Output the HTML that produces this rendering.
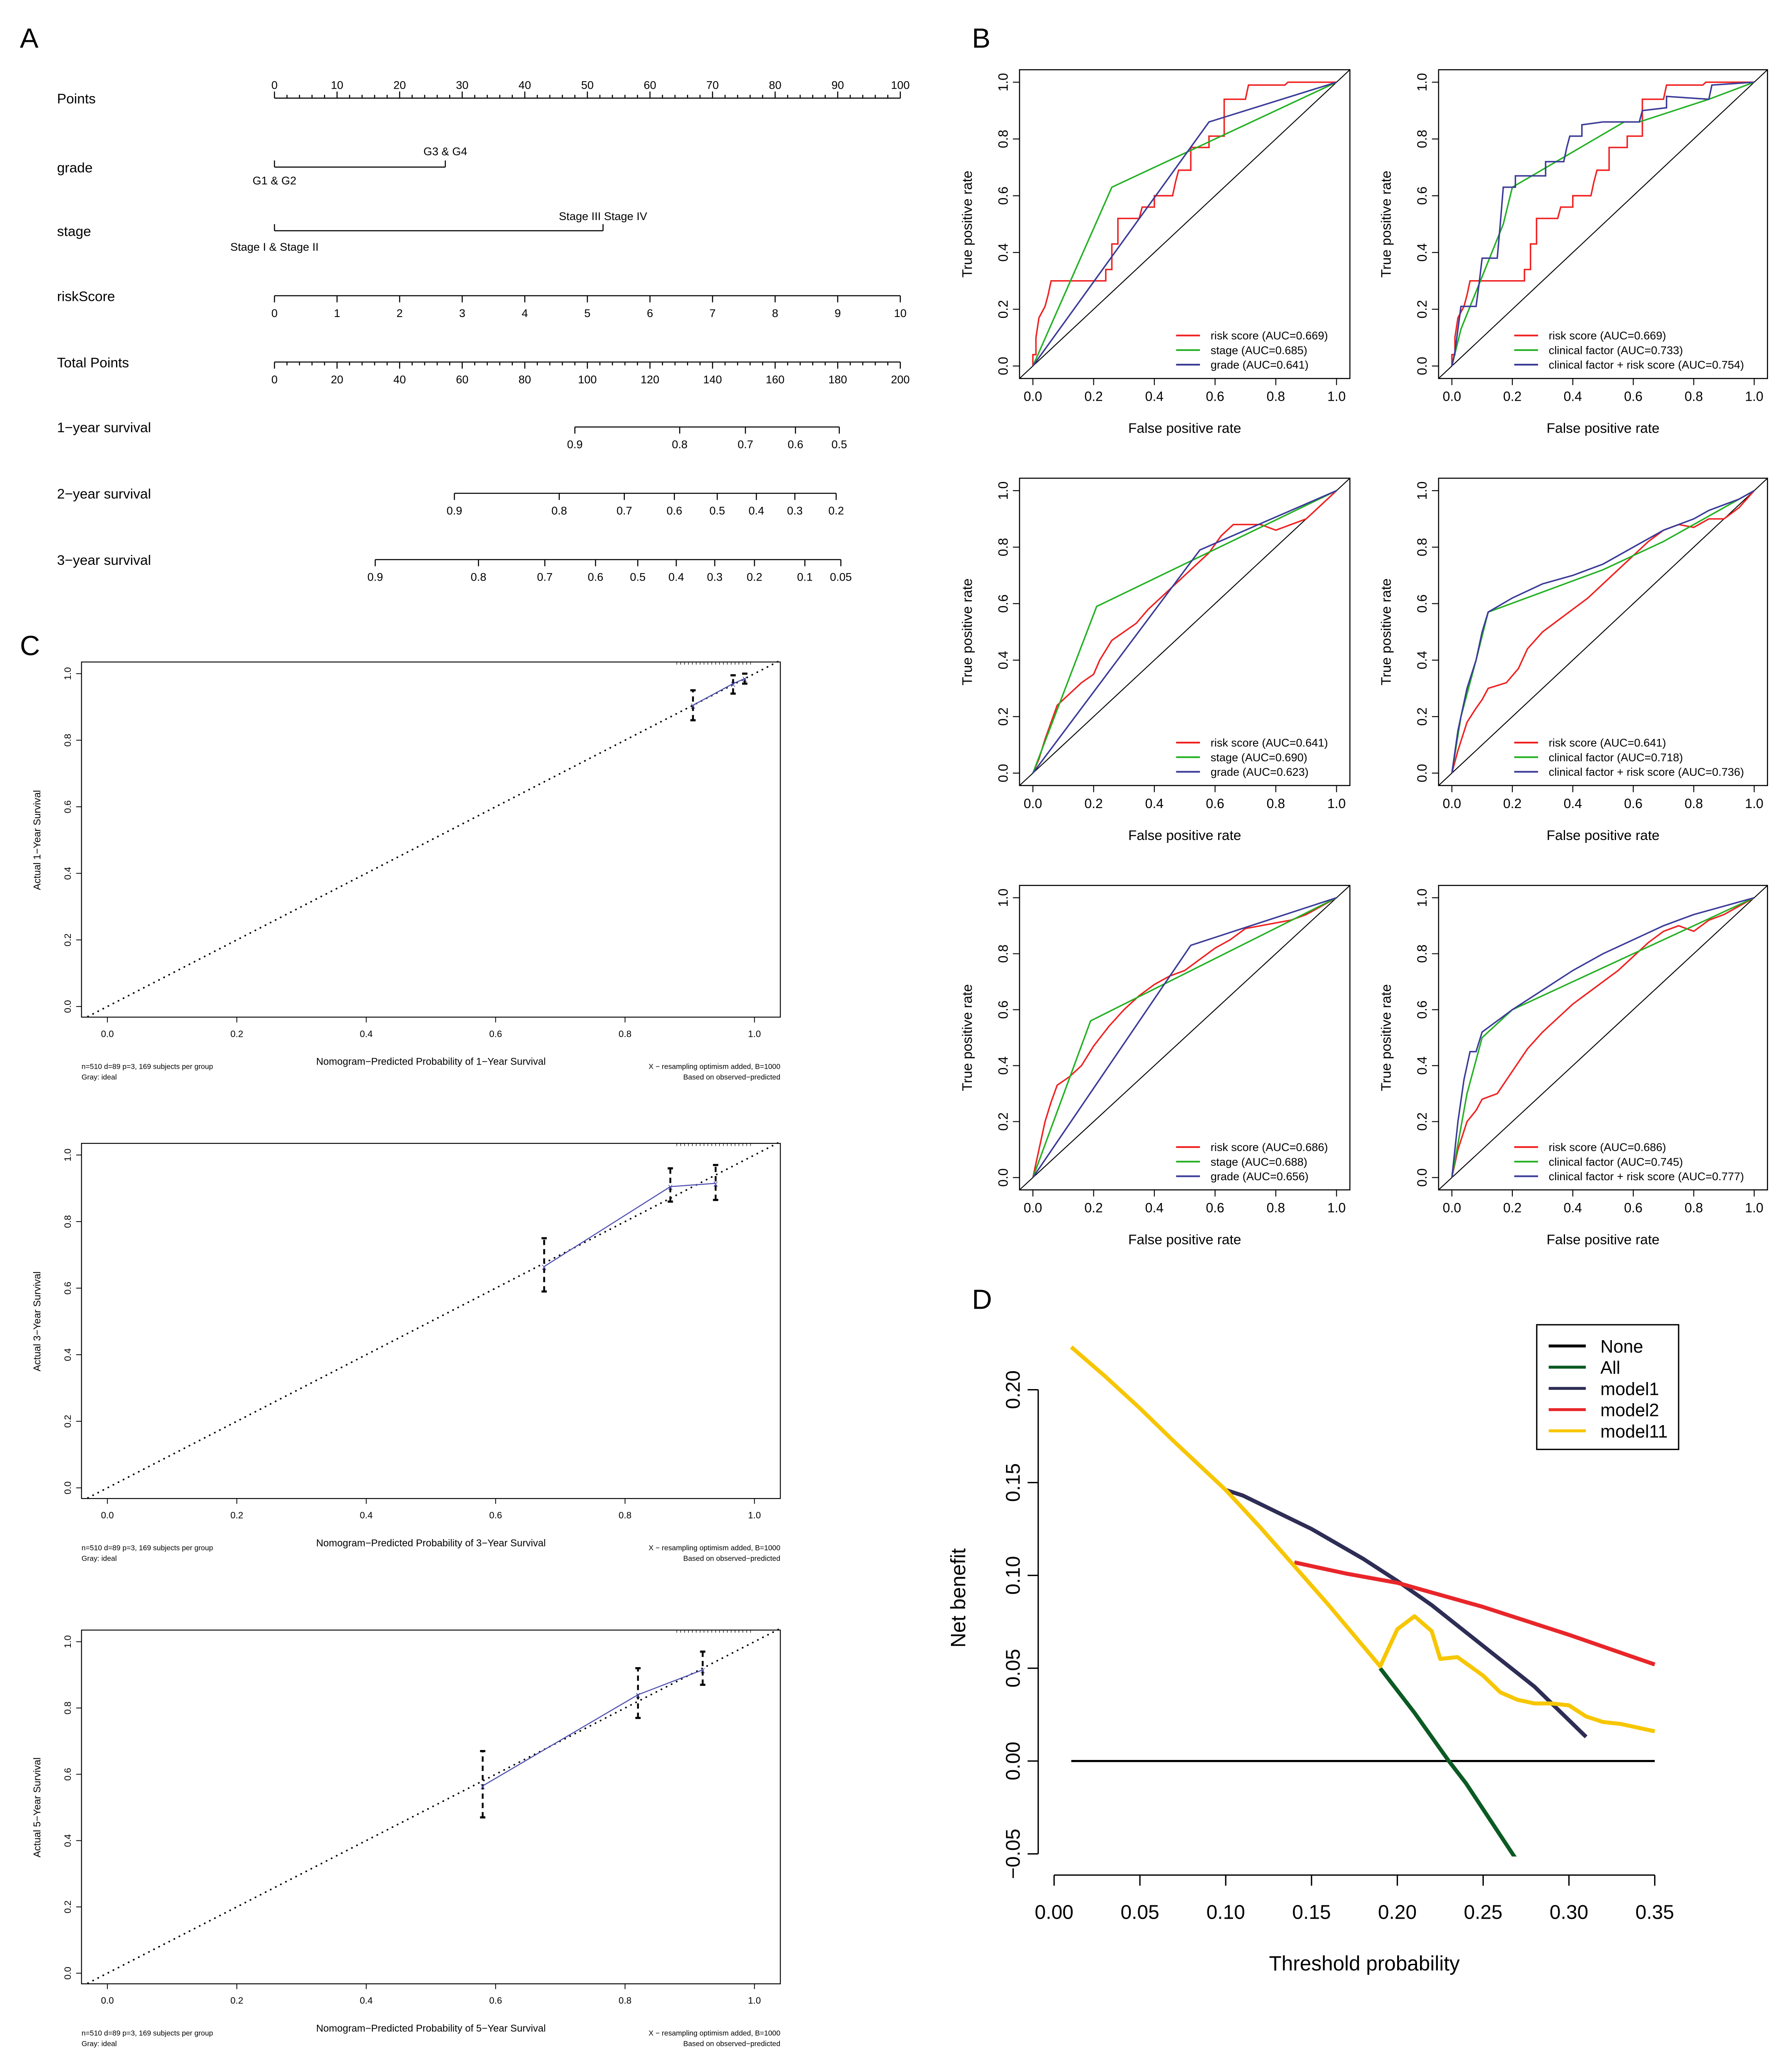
<!DOCTYPE html>
<html><head><meta charset="utf-8">
<style>
html,body{margin:0;padding:0;background:#fff;width:4320px;height:5004px;overflow:hidden;}
svg{display:block;}
text{font-family:"Liberation Sans",sans-serif;fill:#000;}
</style></head>
<body>
<svg id="fig" xmlns="http://www.w3.org/2000/svg" width="4320" height="5004" viewBox="0 0 1350 1563.75">
<rect width="1350" height="1563.75" fill="#fff"/>
<text x="15" y="36" font-size="21">A</text>
<text x="733" y="36" font-size="21">B</text>
<text x="15" y="494" font-size="21">C</text>
<text x="733" y="987" font-size="21">D</text>
<g id="nomo"></g>
<g id="roc"></g>
<g id="cal"></g>
<g id="dca"></g>
</svg>
<script>
// ---------- Nomogram data ----------
const nomoRowLabels = ["Points","grade","stage","riskScore","Total Points","1\u2212year survival","2\u2212year survival","3\u2212year survival"];
const pointsTicks = [0,10,20,30,40,50,60,70,80,90,100];
const gradePoints = [0,27.3];
const gradeLabels = ["G1 & G2","G3 & G4"];
const stagePoints = [0,52.5];
const stageLabels = ["Stage I & Stage II","Stage III Stage IV"];
const riskTicks = [0,1,2,3,4,5,6,7,8,9,10];
const totalTicks = [0,20,40,60,80,100,120,140,160,180,200];
const surv1Labels = ["0.9","0.8","0.7","0.6","0.5"];
const surv1Total = [96,129.5,150.5,166.5,180.5];
const surv2Labels = ["0.9","0.8","0.7","0.6","0.5","0.4","0.3","0.2"];
const surv2Total = [57.5,91,111.8,127.8,141.5,154,166.3,179.5];
const surv3Labels = ["0.9","0.8","0.7","0.6","0.5","0.4","0.3","0.2","0.1","0.05"];
const surv3Total = [32.2,65.2,86.4,102.6,116.1,128.4,140.7,153.4,169.5,181];

// ---------- ROC data ----------
const rocRed1 = [[0,0],[0,0.04],[0.01,0.04],[0.01,0.1],[0.02,0.17],[0.04,0.21],[0.05,0.25],[0.06,0.3],[0.24,0.3],[0.24,0.34],[0.26,0.34],[0.26,0.43],[0.28,0.43],[0.28,0.52],[0.35,0.52],[0.36,0.56],[0.40,0.56],[0.40,0.60],[0.46,0.60],[0.47,0.65],[0.48,0.69],[0.52,0.69],[0.52,0.77],[0.58,0.77],[0.58,0.81],[0.63,0.81],[0.63,0.94],[0.70,0.94],[0.71,0.99],[0.83,0.99],[0.84,1.0],[1,1]];
const rocStage1 = [[0,0],[0.26,0.63],[1,1]];
const rocGrade1 = [[0,0],[0.58,0.86],[1,1]];
const rocClin1 = [[0,0],[0.03,0.13],[0.17,0.5],[0.2,0.63],[0.57,0.86],[0.62,0.86],[0.85,0.94],[1,1]];
const rocComb1 = [[0,0],[0.01,0.05],[0.02,0.13],[0.03,0.21],[0.08,0.21],[0.09,0.29],[0.1,0.38],[0.15,0.38],[0.16,0.5],[0.17,0.63],[0.21,0.63],[0.21,0.67],[0.31,0.67],[0.31,0.72],[0.37,0.72],[0.38,0.77],[0.39,0.81],[0.43,0.81],[0.43,0.85],[0.5,0.86],[0.62,0.86],[0.63,0.9],[0.71,0.91],[0.71,0.95],[0.85,0.94],[0.86,0.99],[1,1]];
const rocRed2 = [[0,0],[0.02,0.05],[0.04,0.12],[0.06,0.18],[0.08,0.24],[0.12,0.28],[0.16,0.32],[0.2,0.35],[0.22,0.4],[0.26,0.47],[0.3,0.5],[0.34,0.53],[0.38,0.58],[0.42,0.62],[0.46,0.66],[0.5,0.7],[0.54,0.74],[0.58,0.78],[0.62,0.84],[0.66,0.88],[0.75,0.88],[0.8,0.86],[0.85,0.88],[0.9,0.9],[0.95,0.95],[1,1]];
const rocStage2 = [[0,0],[0.21,0.59],[1,1]];
const rocGrade2 = [[0,0],[0.55,0.79],[1,1]];
const rocRed2b = [[0,0],[0.02,0.08],[0.05,0.18],[0.08,0.23],[0.1,0.26],[0.12,0.3],[0.18,0.32],[0.22,0.37],[0.25,0.44],[0.3,0.5],[0.35,0.54],[0.4,0.58],[0.45,0.62],[0.5,0.67],[0.55,0.72],[0.6,0.77],[0.65,0.82],[0.7,0.86],[0.75,0.88],[0.8,0.87],[0.85,0.9],[0.9,0.9],[0.95,0.94],[1,1]];
const rocClin2 = [[0,0],[0.03,0.2],[0.08,0.4],[0.12,0.57],[0.5,0.72],[0.7,0.82],[1,1]];
const rocComb2 = [[0,0],[0.02,0.15],[0.05,0.3],[0.08,0.4],[0.1,0.5],[0.12,0.57],[0.2,0.62],[0.3,0.67],[0.4,0.7],[0.5,0.74],[0.6,0.8],[0.7,0.86],[0.8,0.9],[0.85,0.93],[0.9,0.95],[0.95,0.97],[1,1]];
const rocRed3 = [[0,0],[0.02,0.1],[0.04,0.2],[0.06,0.27],[0.08,0.33],[0.12,0.36],[0.16,0.4],[0.2,0.47],[0.25,0.54],[0.3,0.6],[0.35,0.65],[0.4,0.69],[0.45,0.72],[0.5,0.74],[0.55,0.78],[0.6,0.82],[0.65,0.85],[0.7,0.89],[0.75,0.9],[0.8,0.91],[0.85,0.92],[0.9,0.94],[0.95,0.97],[1,1]];
const rocStage3 = [[0,0],[0.19,0.56],[1,1]];
const rocGrade3 = [[0,0],[0.52,0.83],[1,1]];
const rocRed3b = [[0,0],[0.02,0.1],[0.05,0.2],[0.08,0.24],[0.1,0.28],[0.15,0.3],[0.2,0.38],[0.25,0.46],[0.3,0.52],[0.35,0.57],[0.4,0.62],[0.45,0.66],[0.5,0.7],[0.55,0.74],[0.6,0.79],[0.65,0.84],[0.7,0.88],[0.75,0.9],[0.8,0.88],[0.85,0.92],[0.9,0.94],[0.95,0.97],[1,1]];
const rocClin3 = [[0,0],[0.05,0.3],[0.1,0.5],[0.2,0.6],[0.4,0.7],[0.6,0.8],[0.8,0.9],[1,1]];
const rocComb3 = [[0,0],[0.02,0.2],[0.04,0.35],[0.06,0.45],[0.08,0.45],[0.1,0.52],[0.15,0.56],[0.2,0.6],[0.3,0.67],[0.4,0.74],[0.5,0.8],[0.6,0.85],[0.7,0.9],[0.8,0.94],[0.9,0.97],[1,1]];
const rocLegendLeft1 = ["risk score (AUC=0.669)","stage (AUC=0.685)","grade (AUC=0.641)"];
const rocLegendRight1 = ["risk score (AUC=0.669)","clinical factor (AUC=0.733)","clinical factor + risk score (AUC=0.754)"];
const rocLegendLeft2 = ["risk score (AUC=0.641)","stage (AUC=0.690)","grade (AUC=0.623)"];
const rocLegendRight2 = ["risk score (AUC=0.641)","clinical factor (AUC=0.718)","clinical factor + risk score (AUC=0.736)"];
const rocLegendLeft3 = ["risk score (AUC=0.686)","stage (AUC=0.688)","grade (AUC=0.656)"];
const rocLegendRight3 = ["risk score (AUC=0.686)","clinical factor (AUC=0.745)","clinical factor + risk score (AUC=0.777)"];
const rocTicks = [0,0.2,0.4,0.6,0.8,1.0];

// ---------- Calibration data ----------
const calPred1 = [0.905,0.967,0.985];
const calObs1 = [0.905,0.97,0.985];
const calLo1 = [0.86,0.94,0.97];
const calHi1 = [0.95,0.995,1.0];
const calPred2 = [0.675,0.87,0.94];
const calObs2 = [0.665,0.905,0.915];
const calLo2 = [0.59,0.86,0.865];
const calHi2 = [0.75,0.96,0.97];
const calPred3 = [0.58,0.82,0.92];
const calObs3 = [0.565,0.84,0.915];
const calLo3 = [0.47,0.77,0.87];
const calHi3 = [0.67,0.92,0.97];
const calYears = ["1","3","5"];

// ---------- Decision curve data ----------
const dcaNoneX = [0.01,0.35];
const dcaNoneY = [0,0];
const dcaAllX = [0.19,0.20,0.21,0.22,0.23,0.24,0.25,0.26,0.27,0.275];
const dcaAllY = [0.050,0.038,0.026,0.013,0.000,-0.012,-0.026,-0.040,-0.054,-0.062];
const dcaM1X = [0.10,0.11,0.13,0.15,0.18,0.20,0.22,0.25,0.28,0.31];
const dcaM1Y = [0.146,0.143,0.134,0.125,0.109,0.097,0.084,0.062,0.040,0.013];
const dcaM2X = [0.14,0.17,0.20,0.25,0.30,0.35];
const dcaM2Y = [0.107,0.101,0.096,0.083,0.068,0.052];
const dcaM11X = [0.01,0.03,0.05,0.07,0.10,0.12,0.14,0.16,0.19,0.20,0.21,0.22,0.225,0.235,0.25,0.26,0.27,0.28,0.29,0.30,0.31,0.32,0.33,0.34,0.35];
const dcaM11Y = [0.223,0.207,0.19,0.172,0.146,0.126,0.105,0.084,0.051,0.071,0.078,0.07,0.055,0.056,0.046,0.037,0.033,0.031,0.031,0.030,0.024,0.021,0.020,0.018,0.016];
const dcaXTicks = [0,0.05,0.10,0.15,0.20,0.25,0.30,0.35];
const dcaYTicks = [-0.05,0,0.05,0.10,0.15,0.20];
const dcaLegend = ["None","All","model1","model2","model11"];
const dcaColors = ["#000000","#0b5a23","#2e2d55","#e8262a","#f7c600"];

const NS="http://www.w3.org/2000/svg";
function mk(parent,tag,attrs,txt){const e=document.createElementNS(NS,tag);for(const k in attrs)e.setAttribute(k,attrs[k]);if(txt!==undefined)e.textContent=txt;parent.appendChild(e);return e;}

// ---------- Nomogram ----------
(function(){
  const g=document.getElementById('nomo');
  const x0=207,x1=679;
  const px=p=>x0+p/100*(x1-x0);
  const tx=t=>x0+t/200*(x1-x0);
  const rowsY=[74,126,174,223,273,322,372,422];
  nomoRowLabels.forEach((l,i)=>{
    const t=mk(g,'text',{x:43,y:rowsY[i]+4,'font-size':10.5},l);
    
    
  });
  const st={stroke:'#000','stroke-width':0.8,fill:'none'};
  mk(g,'line',Object.assign({x1:px(0),x2:px(100),y1:74,y2:74},st));
  for(let v=0;v<=100;v+=2){mk(g,'line',Object.assign({x1:px(v),x2:px(v),y1:74,y2:v%10==0?69:71.5},st));}
  pointsTicks.forEach(v=>{const t=mk(g,'text',{x:px(v),y:67,'font-size':8.5,'text-anchor':'middle'},String(v));});
  mk(g,'line',Object.assign({x1:px(gradePoints[0]),x2:px(gradePoints[1]),y1:126,y2:126},st));
  gradePoints.forEach(v=>mk(g,'line',Object.assign({x1:px(v),x2:px(v),y1:126,y2:121},st)));
  mk(g,'text',{x:px(gradePoints[0]),y:139,'font-size':8.5,'text-anchor':'middle'},gradeLabels[0]);
  mk(g,'text',{x:px(gradePoints[1]),y:117,'font-size':8.5,'text-anchor':'middle'},gradeLabels[1]);
  mk(g,'line',Object.assign({x1:px(stagePoints[0]),x2:px(stagePoints[1]),y1:174,y2:174},st));
  stagePoints.forEach(v=>mk(g,'line',Object.assign({x1:px(v),x2:px(v),y1:174,y2:169},st)));
  mk(g,'text',{x:px(stagePoints[0]),y:189,'font-size':8.5,'text-anchor':'middle'},stageLabels[0]);
  mk(g,'text',{x:px(stagePoints[1]),y:166,'font-size':8.5,'text-anchor':'middle'},stageLabels[1]);
  mk(g,'line',Object.assign({x1:px(0),x2:px(100),y1:223,y2:223},st));
  riskTicks.forEach(v=>{mk(g,'line',Object.assign({x1:px(v*10),x2:px(v*10),y1:223,y2:228},st));mk(g,'text',{x:px(v*10),y:239,'font-size':8.5,'text-anchor':'middle'},String(v));});
  mk(g,'line',Object.assign({x1:tx(0),x2:tx(200),y1:273,y2:273},st));
  for(let v=0;v<=200;v+=4){mk(g,'line',Object.assign({x1:tx(v),x2:tx(v),y1:273,y2:v%20==0?278:275.5},st));}
  totalTicks.forEach(v=>mk(g,'text',{x:tx(v),y:289,'font-size':8.5,'text-anchor':'middle'},String(v)));
  [[surv1Total,surv1Labels,322],[surv2Total,surv2Labels,372],[surv3Total,surv3Labels,422]].forEach(([tot,lab,y])=>{
    mk(g,'line',Object.assign({x1:tx(tot[0]),x2:tx(tot[tot.length-1]),y1:y,y2:y},st));
    tot.forEach((v,i)=>{mk(g,'line',Object.assign({x1:tx(v),x2:tx(v),y1:y,y2:y+5},st));mk(g,'text',{x:tx(v),y:y+16,'font-size':8.5,'text-anchor':'middle'},lab[i]);});
  });
})();

// ---------- ROC ----------
(function(){
  const g=document.getElementById('roc');
  const cols=[{x0:779,x1:1008,legX:887},{x0:1095,x1:1323,legX:1142}];
  const rows=[{y0:276,y1:62},{y0:583,y1:370},{y0:888,y1:677}];
  const panels=[
    [ [rocRed1,rocStage1,rocGrade1], rocLegendLeft1, 0,0],
    [ [rocRed1,rocClin1,rocComb1], rocLegendRight1, 1,0],
    [ [rocRed2,rocStage2,rocGrade2], rocLegendLeft2, 0,1],
    [ [rocRed2b,rocClin2,rocComb2], rocLegendRight2, 1,1],
    [ [rocRed3,rocStage3,rocGrade3], rocLegendLeft3, 0,2],
    [ [rocRed3b,rocClin3,rocComb3], rocLegendRight3, 1,2]];
  const colors=['#f02020','#22b022','#3a3a98'];
  panels.forEach(([series,legend,ci,ri],pi)=>{
    const c=cols[ci],r=rows[ri];
    const sx=v=>c.x0+v*(c.x1-c.x0), sy=v=>r.y0-v*(r.y0-r.y1);
    const pg=mk(g,'g',{});
    
    
    const bx0=sx(-0.044),bx1=sx(1.044),by0=sy(-0.044),by1=sy(1.044);
    const cid='clip'+pi;
    const cp=mk(pg,'clipPath',{id:cid});mk(cp,'rect',{x:bx0,y:by1,width:bx1-bx0,height:by0-by1});
    mk(pg,'rect',{x:bx0,y:by1,width:bx1-bx0,height:by0-by1,fill:'none',stroke:'#000','stroke-width':0.8});
    mk(pg,'line',{x1:bx0,y1:by0,x2:bx1,y2:by1,stroke:'#000','stroke-width':0.7,'clip-path':'url(#'+cid+')'});
    rocTicks.forEach(t=>{
      mk(pg,'line',{x1:sx(t),x2:sx(t),y1:by0,y2:by0+5,stroke:'#000','stroke-width':0.7});
      mk(pg,'text',{x:sx(t),y:by0+17,'font-size':10,'text-anchor':'middle'},t.toFixed(1));
      mk(pg,'line',{x1:bx0,x2:bx0-5,y1:sy(t),y2:sy(t),stroke:'#000','stroke-width':0.7});
      mk(pg,'text',{x:0,y:0,'font-size':10,'text-anchor':'middle',transform:`translate(${bx0-9},${sy(t)}) rotate(-90)`},t.toFixed(1));
    });
    const xt=mk(pg,'text',{x:(sx(0)+sx(1))/2,y:by0+41,'font-size':10.5,'text-anchor':'middle'},'False positive rate');
    
    const yt=mk(pg,'text',{x:0,y:0,'font-size':10.5,'text-anchor':'middle',transform:`translate(${bx0-36},${(sy(0)+sy(1))/2}) rotate(-90)`},'True positive rate');
    
    series.forEach((s,si)=>{
      const p=mk(pg,'polyline',{points:s.map(d=>sx(d[0])+','+sy(d[1])).join(' '),fill:'none',stroke:colors[si],'stroke-width':1.1});
      
      
    });
    legend.forEach((l,li)=>{
      const ly=r.y0-23+li*11;
      mk(pg,'line',{x1:c.legX,x2:c.legX+18,y1:ly,y2:ly,stroke:colors[li],'stroke-width':1.3});
      const t=mk(pg,'text',{x:c.legX+26,y:ly+3,'font-size':8.5},l);
      
      
    });
  });
})();

// ---------- Calibration ----------
(function(){
  const g=document.getElementById('cal');
  const sets=[[calPred1,calObs1,calLo1,calHi1,759,508],[calPred2,calObs2,calLo2,calHi2,1122,871],[calPred3,calObs3,calLo3,calHi3,1488,1238]];
  const x0=81,x1=569;
  sets.forEach(([pr,ob,lo,hi,y0,y1],k)=>{
    const sx=v=>x0+v*(x1-x0), sy=v=>y0-v*(y0-y1);
    const pg=mk(g,'g',{});
    
    
    const bx0=sx(-0.04),bx1=sx(1.04),by0=sy(-0.032),by1=sy(1.035);
    mk(pg,'rect',{x:bx0,y:by1,width:bx1-bx0,height:by0-by1,fill:'none',stroke:'#000','stroke-width':0.7});
    mk(pg,'line',{x1:sx(-0.03),y1:sy(-0.03),x2:sx(1.04),y2:sy(1.04),stroke:'#000','stroke-width':1.3,'stroke-dasharray':'0.1 4.2','stroke-linecap':'round'});
    rocTicks.forEach(t=>{
      mk(pg,'line',{x1:sx(t),x2:sx(t),y1:by0,y2:by0+4,stroke:'#000','stroke-width':0.6});
      mk(pg,'text',{x:sx(t),y:by0+15,'font-size':7,'text-anchor':'middle'},t.toFixed(1));
      mk(pg,'line',{x1:bx0,x2:bx0-4,y1:sy(t),y2:sy(t),stroke:'#000','stroke-width':0.6});
      mk(pg,'text',{x:0,y:0,'font-size':7,'text-anchor':'middle',transform:`translate(${bx0-8},${sy(t)}) rotate(-90)`},t.toFixed(1));
    });
    for(let v=0.88;v<1.0;v+=0.006){mk(pg,'line',{x1:sx(v),x2:sx(v),y1:by1,y2:by1+2,stroke:'#000','stroke-width':0.4});}
    mk(pg,'polyline',{points:pr.map((p,i)=>sx(p)+','+sy(ob[i])).join(' '),fill:'none',stroke:'#5050b0','stroke-width':0.8});
    pr.forEach((p,i)=>{
      const e=mk(pg,'g',{});
      
      
      mk(e,'line',{x1:sx(p),x2:sx(p),y1:sy(lo[i]),y2:sy(hi[i]),stroke:'#000','stroke-width':1.4,'stroke-dasharray':'4 3'});
      mk(e,'line',{x1:sx(p)-2,x2:sx(p)+2,y1:sy(lo[i]),y2:sy(lo[i]),stroke:'#000','stroke-width':1.6});
      mk(e,'line',{x1:sx(p)-2,x2:sx(p)+2,y1:sy(hi[i]),y2:sy(hi[i]),stroke:'#000','stroke-width':1.6});
      mk(e,'text',{x:sx(p),y:sy(ob[i])+2.5,'font-size':7,'text-anchor':'middle',style:'fill:#5050b0'},'x');
    });
    const xt=mk(pg,'text',{x:(sx(0)+sx(1))/2,y:by0+36,'font-size':7.5,'text-anchor':'middle'},'Nomogram\u2212Predicted Probability of '+calYears[k]+'\u2212Year Survival');
    
    const yt=mk(pg,'text',{x:0,y:0,'font-size':7.5,'text-anchor':'middle',transform:`translate(${bx0-31},${(sy(0)+sy(1))/2}) rotate(-90)`},'Actual '+calYears[k]+'\u2212Year Survival');
    
    mk(pg,'text',{x:bx0,y:by0+39,'font-size':5.5},'n=510 d=89 p=3, 169 subjects per group');
    mk(pg,'text',{x:bx0,y:by0+47,'font-size':5.5},'Gray: ideal');
    mk(pg,'text',{x:bx1,y:by0+39,'font-size':5.5,'text-anchor':'end'},'X \u2212 resampling optimism added, B=1000');
    mk(pg,'text',{x:bx1,y:by0+47,'font-size':5.5,'text-anchor':'end'},'Based on observed\u2212predicted');
  });
})();

// ---------- Decision curve ----------
(function(){
  const g=document.getElementById('dca');
  const sx=v=>795+v/0.35*453, sy=v=>1328-v*1400;
  mk(g,'line',{x1:783,x2:783,y1:sy(0.20),y2:sy(-0.05),stroke:'#000','stroke-width':1});
  dcaYTicks.forEach(t=>{
    mk(g,'line',{x1:783,x2:775,y1:sy(t),y2:sy(t),stroke:'#000','stroke-width':1});
    mk(g,'text',{x:0,y:0,'font-size':15,'text-anchor':'middle',transform:`translate(769,${sy(t)}) rotate(-90)`},t==0?'0.00':(t<0?'\u2212':'')+Math.abs(t).toFixed(2));
  });
  mk(g,'line',{x1:sx(0),x2:sx(0.35),y1:1414,y2:1414,stroke:'#000','stroke-width':1});
  dcaXTicks.forEach(t=>{
    mk(g,'line',{x1:sx(t),x2:sx(t),y1:1414,y2:1422,stroke:'#000','stroke-width':1});
    mk(g,'text',{x:sx(t),y:1447,'font-size':15,'text-anchor':'middle'},t.toFixed(2));
  });
  const xt=mk(g,'text',{x:1029,y:1486,'font-size':15.5,'text-anchor':'middle'},'Threshold probability');
  
  const yt=mk(g,'text',{x:0,y:0,'font-size':15.5,'text-anchor':'middle',transform:'translate(728,1205) rotate(-90)'},'Net benefit');
  
  const series=[[dcaNoneX,dcaNoneY],[dcaAllX,dcaAllY],[dcaM1X,dcaM1Y],[dcaM2X,dcaM2Y],[dcaM11X,dcaM11Y]];
  const cp=mk(g,'clipPath',{id:'dcaclip'});mk(cp,'rect',{x:780,y:1000,width:500,height:sy(-0.05)-1000+2});
  series.forEach(([xs,ys],i)=>{
    const p=mk(g,'polyline',{points:xs.map((x,j)=>sx(x)+','+sy(ys[j])).join(' '),fill:'none',stroke:dcaColors[i],'stroke-width':i==0?1.6:3,'stroke-linejoin':'round','clip-path':'url(#dcaclip)'});
    
    
  });
  const lg=mk(g,'g',{});
  
  
  mk(lg,'rect',{x:1159,y:999,width:107,height:94,fill:'#fff',stroke:'#000','stroke-width':1});
  dcaLegend.forEach((l,i)=>{
    const y=1015+i*16;
    mk(lg,'line',{x1:1168,x2:1196,y1:y,y2:y,stroke:dcaColors[i],'stroke-width':2.2});
    const t=mk(lg,'text',{x:1207,y:y+5,'font-size':13.5},l);
    
    
  });
})();
</script>
</body></html>
